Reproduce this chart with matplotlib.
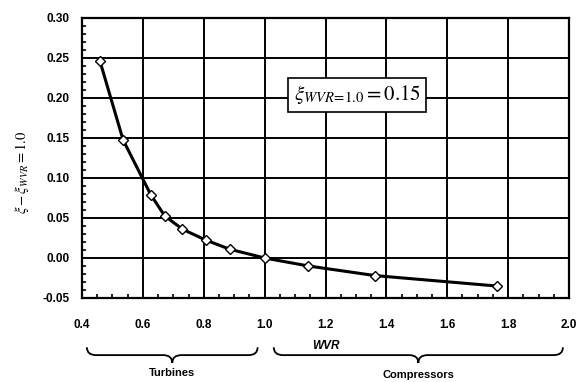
import numpy as np
import matplotlib
matplotlib.use("Agg")
import matplotlib.pyplot as plt
from matplotlib.path import Path
from matplotlib.patches import PathPatch
from matplotlib.ticker import MultipleLocator

wvr = [0.459, 0.535, 0.626, 0.672, 0.730, 0.806, 0.885, 1.0, 1.144, 1.363, 1.762]
dxi = [0.246, 0.1475, 0.079, 0.0525, 0.036, 0.0225, 0.011, 0.0, -0.010, -0.022, -0.035]
xticks = [0.4, 0.6, 0.8, 1.0, 1.2, 1.4, 1.6, 1.8, 2.0]
xticklabels = ["0.4", "0.6", "0.8", "1.0", "1.2", "1.4", "1.6", "1.8", "2.0"]
yticks = [-0.05, 0.0, 0.05, 0.10, 0.15, 0.20, 0.25, 0.30]
yticklabels = ["-0.05", "0.00", "0.05", "0.10", "0.15", "0.20", "0.25", "0.30"]
groups = ["Turbines", "Compressors"]
group_ranges = [(0.416, 0.977), (1.03, 1.98)]

plt.rcParams['mathtext.fontset'] = 'stix'
fig = plt.figure(figsize=(5.78, 3.82), dpi=100)
ax = fig.add_axes([0.1419, 0.2199, 0.8425, 0.733])

ax.set_xlim(0.4, 2.0)
ax.set_ylim(-0.05, 0.30)
ax.set_xticks(xticks)
ax.set_xticklabels(xticklabels)
ax.set_yticks(yticks)
ax.set_yticklabels(yticklabels)
ax.xaxis.set_minor_locator(MultipleLocator(0.05))
ax.yaxis.set_minor_locator(MultipleLocator(0.01))
ax.tick_params(axis='x', which='major', length=0, pad=15)
ax.tick_params(axis='y', which='major', length=0, pad=9)
ax.tick_params(which='minor', direction='in', length=3, width=1.2, colors='black')
for lab in ax.get_xticklabels() + ax.get_yticklabels():
    lab.set_fontfamily('Liberation Sans')
    lab.set_fontweight('bold')
    lab.set_fontsize(8.5)

ax.grid(True, which='major', color='black', linewidth=1.4)
for s in ax.spines.values():
    s.set_linewidth(1.6)
    s.set_color('black')

ax.plot(wvr, dxi, color='black', linewidth=2.2, marker='D', markersize=5,
        markerfacecolor='white', markeredgecolor='black', markeredgewidth=1.0, zorder=3)

ax.set_xlabel('WVR', fontfamily='Liberation Sans', fontweight='bold', fontstyle='italic',
              fontsize=8.5)
ax.xaxis.set_label_coords(0.5, -0.15)
ax.set_ylabel(r'$\xi - \xi_{WVR} = 1.0$', fontsize=10.5)
ax.yaxis.set_label_coords(-0.105, 0.45)

ax.text(1.095, 0.204, r'$\xi_{WVR\!=\!1.0} = 0.15$', fontsize=15, va='center', ha='left',
        bbox=dict(boxstyle='square,pad=0.25', facecolor='white', edgecolor='black', linewidth=1.2),
        zorder=5)

trans = ax.get_xaxis_transform()

def brace(x0, x1, ytop, ymid, ybot):
    xm = 0.5 * (x0 + x1)
    r = 0.03
    verts = [(x0, ytop), (x0, ymid), (x0 + r, ymid),
             (xm - r, ymid), (xm, ymid), (xm, ybot),
             (xm, ymid), (xm + r, ymid),
             (x1 - r, ymid), (x1, ymid), (x1, ytop)]
    codes = [Path.MOVETO, Path.CURVE3, Path.CURVE3,
             Path.LINETO, Path.CURVE3, Path.CURVE3,
             Path.CURVE3, Path.CURVE3,
             Path.LINETO, Path.CURVE3, Path.CURVE3]
    p = PathPatch(Path(verts, codes), transform=trans, fill=False, edgecolor='black',
                  linewidth=1.3, clip_on=False)
    ax.add_patch(p)
    return xm

for name, (a, b), ty in zip(groups, group_ranges, [-0.268, -0.275]):
    xm = brace(a, b, -0.176, -0.204, -0.232)
    ax.text(xm, ty, name, transform=trans, ha='center', va='center',
            fontfamily='Liberation Sans', fontweight='bold', fontsize=8)

fig.savefig('out.png', dpi=100)
